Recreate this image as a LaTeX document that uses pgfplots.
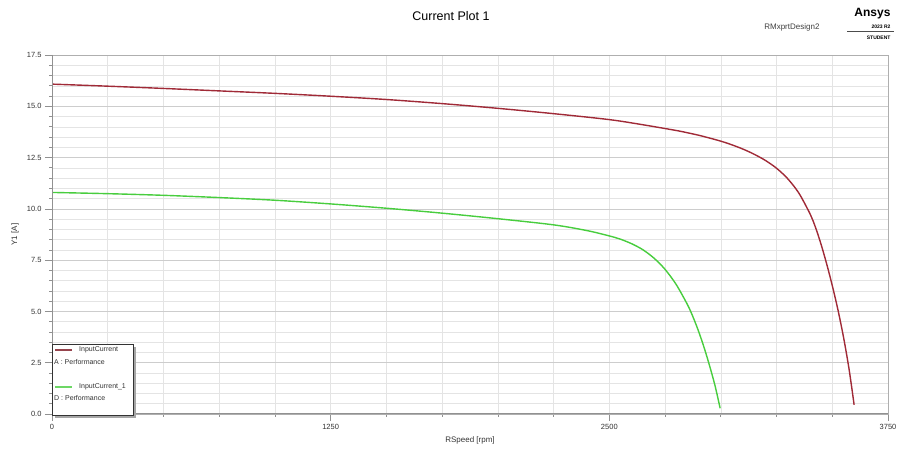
\documentclass[border=0pt]{standalone}
\usepackage{pgfplots}
\pgfplotsset{compat=1.18}
\usepackage{fontspec}
\setmainfont{Liberation Sans}
\definecolor{redc}{RGB}{160,42,55}
\definecolor{greenc}{RGB}{72,205,62}
\definecolor{gridmaj}{RGB}{205,205,205}
\definecolor{gridmin}{RGB}{228,228,228}
\definecolor{axgray}{RGB}{145,145,145}
\definecolor{boxgray}{RGB}{175,175,175}
\begin{document}
\begin{tikzpicture}[x=1pt,y=1pt]
\useasboundingbox (0,0) rectangle (899,454);
\begin{axis}[
  at={(52pt,40pt)}, anchor=south west,
  scale only axis, width=836pt, height=359pt,
  xmin=0, xmax=3750, ymin=0, ymax=17.5,
  xtick={0,1250,2500,3750}, minor x tick num=4,
  ytick={0,2.5,5,7.5,10,12.5,15,17.5}, minor y tick num=4,
  grid=both,
  major grid style={gridmaj, line width=0.6pt},
  minor grid style={gridmin, line width=0.5pt},
  major x grid style={gridmin, line width=0.6pt},
  axis line style={boxgray, line width=0.8pt},
  tick align=outside, tick pos=left,
  major tick length=7pt, minor tick length=3pt,
  every tick/.style={axgray, line width=0.7pt},
  scaled ticks=false,
  yticklabel style={/pgf/number format/.cd, fixed, fixed zerofill, precision=1},
  xticklabel style={/pgf/number format/.cd, fixed, 1000 sep={}},
  /pgf/number format/assume math mode=true,
  ticklabel style={font=\fontsize{7.5}{8}\selectfont, text=black!80},
  xlabel={RSpeed [rpm]}, ylabel={Y1 [A]},
  label style={font=\fontsize{8}{9}\selectfont, text=black!80},
  xlabel style={at={(axis description cs:0.5,0)}, anchor=north, yshift=-19pt},
  ylabel style={at={(axis description cs:-0.0443,0.5)}, anchor=center},
]
\addplot[redc, line width=1.4pt, smooth, line join=round] coordinates {
(0,16.08) (250,15.98) (500,15.87) (750,15.75) (1000,15.63) (1250,15.49)
(1500,15.33) (1750,15.13) (2000,14.90) (2250,14.64) (2500,14.35) (2650,14.10)
(2800,13.82) (2850,13.71) (2900,13.59) (2950,13.45) (3000,13.30) (3050,13.12)
(3100,12.91) (3150,12.66) (3200,12.36) (3250,11.98) (3300,11.47) (3350,10.77)
(3400,9.76) (3425,9.09) (3450,8.26) (3475,7.31) (3500,6.26) (3525,5.10)
(3550,3.77) (3575,2.21) (3598,0.45)
};
\addplot[greenc, line width=1.4pt, smooth, line join=round] coordinates {
(0,10.80) (250,10.74) (500,10.66) (750,10.55) (1000,10.42) (1250,10.24)
(1500,10.03) (1750,9.79) (2000,9.52) (2250,9.22) (2400,8.94) (2500,8.68)
(2550,8.52) (2600,8.30) (2650,8.01) (2700,7.60) (2750,7.05) (2800,6.31)
(2850,5.34) (2875,4.74) (2900,4.04) (2925,3.24) (2950,2.34) (2975,1.34)
(2997,0.28)
};
\draw[axgray, line width=1.4pt] (rel axis cs:0,1) -- (rel axis cs:0,0) -- (rel axis cs:1,0);
\end{axis}
% title
\node[font=\fontsize{12.5}{14}\selectfont] at (451,438) {Current Plot 1};
% branding
\node[font=\fontsize{8}{10}\selectfont, text=black!75, anchor=east] at (823,427) {RMxprtDesign2};
\node[font=\fontsize{12}{13}\selectfont\bfseries, anchor=east] at (894,440) {Ansys};
\node[font=\fontsize{5}{6}\selectfont\bfseries, anchor=east] at (894,427.5) {2023 R2};
\draw[black!70, line width=0.5pt] (847,422.5) -- (894,422.5);
\node[font=\fontsize{5}{6}\selectfont\bfseries, anchor=east] at (894,416.5) {STUDENT};
% legend
\fill[black!35] (55,36) rectangle (136,107);
\draw[black!80, fill=white, line width=0.9pt] (52,39) rectangle (133,110);
\draw[redc!70!gray, line width=1.2pt] (55,104) -- (72,104);
\node[font=\fontsize{7}{8}\selectfont, anchor=west, inner sep=0pt, text=black!80] at (79,104) {InputCurrent};
\node[font=\fontsize{7}{8}\selectfont, anchor=west, inner sep=0pt, text=black!80] at (54,92) {A : Performance};
\draw[greenc!80!white, line width=1.2pt] (55,67) -- (72,67);
\node[font=\fontsize{7}{8}\selectfont, anchor=west, inner sep=0pt, text=black!80] at (79,67) {InputCurrent\_1};
\node[font=\fontsize{7}{8}\selectfont, anchor=west, inner sep=0pt, text=black!80] at (54,56) {D : Performance};
\end{tikzpicture}
\end{document}
